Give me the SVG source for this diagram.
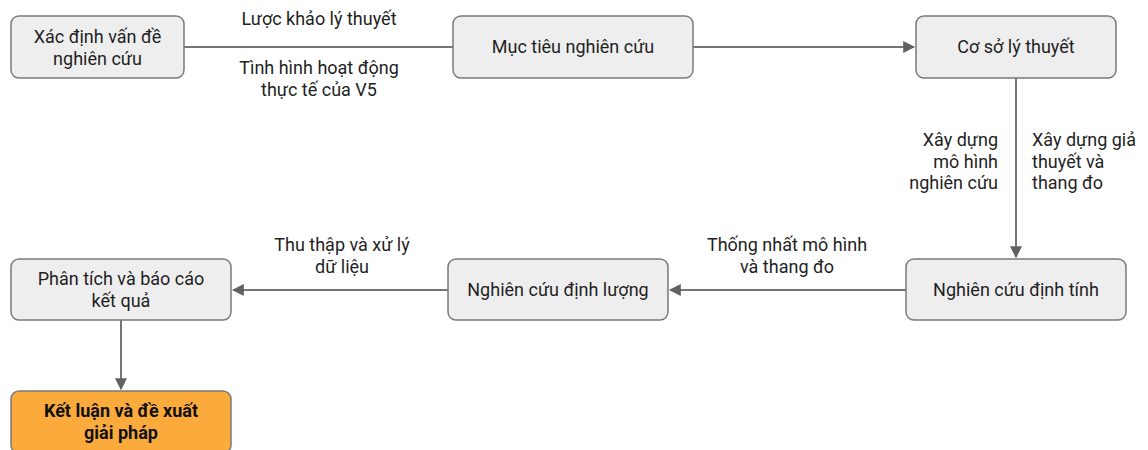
<svg xmlns="http://www.w3.org/2000/svg" width="1148" height="450" viewBox="0 0 1148 450">
  <style>
    text { font-family: Roboto, "Liberation Sans", sans-serif; font-size: 18px; fill: #1f1f1f; }
    .node rect { fill: #eeeeee; stroke: #7a7a7a; stroke-width: 1.5; }
    .node text { text-anchor: middle; }
    .final rect { fill: #fbaa3c; }
    .final text { font-weight: bold; fill: #111; }
    .edge { fill: none; stroke: #757575; stroke-width: 2; }
    .lbl { text-anchor: middle; }
  </style>
  <defs>
    <marker id="arrow" viewBox="0 0 10 10" refX="9" refY="5" markerWidth="6" markerHeight="6" markerUnits="strokeWidth" orient="auto">
      <path d="M0,0 L10,5 L0,10 Z" fill="#616161"/>
    </marker>
  </defs>

  <rect width="1148" height="450" fill="#ffffff"/>

  <g id="connectors">
    <path class="edge" d="M184,47 H453"/>
    <path class="edge" d="M693,47 H914" marker-end="url(#arrow)"/>
    <path class="edge" d="M1016,78 V257" marker-end="url(#arrow)"/>
    <path class="edge" d="M906,290 H670" marker-end="url(#arrow)"/>
    <path class="edge" d="M448,290 H233" marker-end="url(#arrow)"/>
    <path class="edge" d="M121,320 V389" marker-end="url(#arrow)"/>

    <text class="lbl" x="319" y="25">Lược khảo lý thuyết</text>
    <text class="lbl" x="319" y="74">Tình hình hoạt động</text>
    <text class="lbl" x="319" y="96">thực tế của V5</text>

    <text x="998" y="146" text-anchor="end">Xây dựng</text>
    <text x="998" y="168" text-anchor="end">mô hình</text>
    <text x="998" y="189" text-anchor="end">nghiên cứu</text>

    <text x="1032" y="146">Xây dựng giả</text>
    <text x="1032" y="168">thuyết và</text>
    <text x="1032" y="189">thang đo</text>

    <text class="lbl" x="787" y="251">Thống nhất mô hình</text>
    <text class="lbl" x="787" y="273">và thang đo</text>

    <text class="lbl" x="342" y="251">Thu thập và xử lý</text>
    <text class="lbl" x="342" y="273">dữ liệu</text>
  </g>

  <g id="n-xac-dinh" class="node">
    <rect x="11" y="16" width="173" height="62" rx="8"/>
    <text x="97.5" y="43">Xác định vấn đề</text>
    <text x="97.5" y="65">nghiên cứu</text>
  </g>

  <g id="n-muc-tieu" class="node">
    <rect x="453" y="16" width="240" height="62" rx="8"/>
    <text x="573" y="53">Mục tiêu nghiên cứu</text>
  </g>

  <g id="n-co-so" class="node">
    <rect x="916" y="16" width="200" height="62" rx="8"/>
    <text x="1016" y="53">Cơ sở lý thuyết</text>
  </g>

  <g id="n-dinh-tinh" class="node">
    <rect x="906" y="259" width="220" height="61" rx="8"/>
    <text x="1016" y="296">Nghiên cứu định tính</text>
  </g>

  <g id="n-dinh-luong" class="node">
    <rect x="448" y="259" width="220" height="61" rx="8"/>
    <text x="558" y="296">Nghiên cứu định lượng</text>
  </g>

  <g id="n-phan-tich" class="node">
    <rect x="11" y="259" width="220" height="61" rx="8"/>
    <text x="121" y="285">Phân tích và báo cáo</text>
    <text x="121" y="307">kết quả</text>
  </g>

  <g id="n-ket-luan" class="node final">
    <rect x="11" y="391" width="220" height="62" rx="8"/>
    <text x="121" y="417">Kết luận và đề xuất</text>
    <text x="121" y="439">giải pháp</text>
  </g>
</svg>
